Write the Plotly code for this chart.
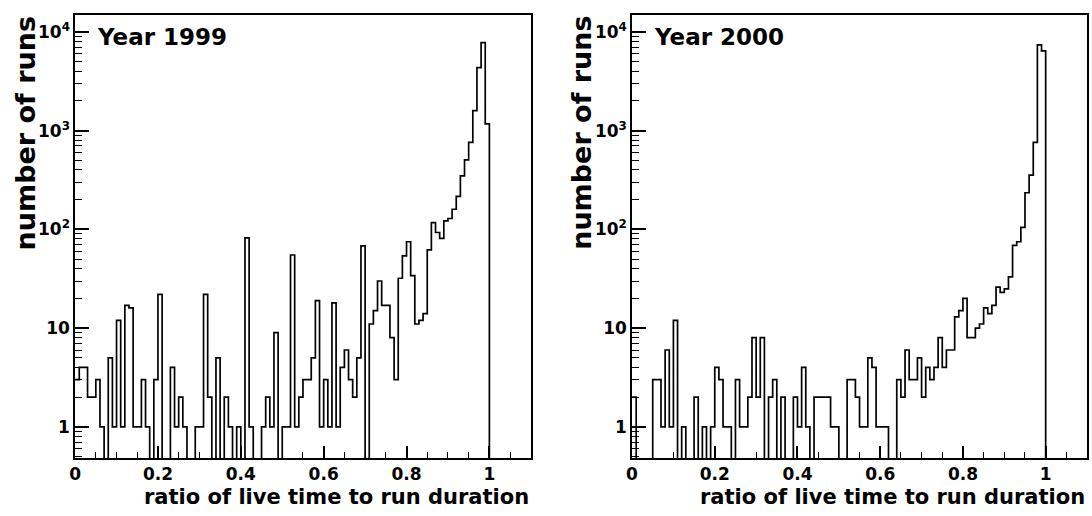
import plotly.graph_objects as go

# ---------------- data ----------------
bin_width = 0.01
x_low = 0.0
n_bins = 110  # 0.00 .. 1.10

counts_1999 = [
    3, 4, 4, 2, 2, 3, 1, 0, 5, 1,          # 0.00-0.09
    12, 1, 17, 16, 1, 1, 3, 1, 0, 3,       # 0.10-0.19
    22, 0, 0, 4, 1, 2, 1, 0, 0, 1,         # 0.20-0.29
    1, 22, 2, 0, 5, 0, 2, 1, 0, 1,         # 0.30-0.39
    0, 82, 1, 0, 0, 1, 2, 1, 9, 0,         # 0.40-0.49
    1, 1, 55, 1, 2, 3, 3, 5, 19, 1,        # 0.50-0.59
    3, 1, 18, 1, 4, 6, 3, 2, 5, 68,        # 0.60-0.69
    0, 11, 15, 30, 17, 17, 8, 3, 32, 54,   # 0.70-0.79
    75, 34, 11, 12, 14, 62, 117, 93, 81, 122,      # 0.80-0.89
    129, 160, 216, 348, 505, 760, 1600, 4350, 7800, 1170,  # 0.90-0.99
    0, 0, 0, 0, 0, 0, 0, 0, 0, 0,          # 1.00-1.09
]

counts_2000 = [
    2, 0, 0, 0, 0, 3, 3, 1, 6, 1,          # 0.00-0.09
    12, 0, 1, 0, 0, 2, 0, 1, 0, 1,         # 0.10-0.19
    4, 3, 1, 1, 0, 3, 1, 1, 2, 8,          # 0.20-0.29
    2, 8, 0, 2, 3, 0, 2, 0, 0, 2,          # 0.30-0.39
    1, 4, 1, 0, 2, 2, 2, 2, 1, 1,          # 0.40-0.49
    0, 0, 3, 3, 2, 1, 1, 5, 4, 1,          # 0.50-0.59
    1, 1, 0, 0, 3, 2, 6, 3, 3, 5,          # 0.60-0.69
    2, 4, 3, 4, 8, 4, 6, 6, 13, 15,        # 0.70-0.79
    20, 8, 8, 10, 11, 16, 14, 17, 26, 23,  # 0.80-0.89
    25, 33, 69, 75, 105, 235, 355, 760, 7400, 6450,  # 0.90-0.99
    0, 0, 0, 0, 0, 0, 0, 0, 0, 0,          # 1.00-1.09
]

panel_titles = ["Year 1999", "Year 2000"]
x_title = "ratio of live time to run duration"
y_title = "number of runs"
x_tick_vals = [0, 0.2, 0.4, 0.6, 0.8, 1.0]
x_tick_text = ["0", "0.2", "0.4", "0.6", "0.8", "1"]
y_tick_vals = [1, 10, 100, 1000, 10000]
y_tick_text = ["1", "10", "10<sup>2</sup>", "10<sup>3</sup>", "10<sup>4</sup>"]

# ---------------- helpers ----------------
edges = [round(x_low + i * bin_width, 4) for i in range(n_bins + 1)]
FLOOR = 1e-2  # empty bins drawn below the visible log range


def step_xy(counts):
    xs = edges[:]  # left edges + final right edge
    ys = [c if c > 0 else FLOOR for c in counts]
    ys = ys + [ys[-1]]
    return xs, ys


FONT = "DejaVu Sans"
W, H = 1092, 516
left_dom = [69.5 / W, 527.7 / W]
right_dom = [629.5 / W, 1087.0 / W]
y_dom = [58.0 / H, 501.0 / H]
y_range = [-0.316, 4.172]

fig = go.Figure()
for i, counts in enumerate([counts_1999, counts_2000]):
    xs, ys = step_xy(counts)
    fig.add_trace(go.Scatter(
        x=xs, y=ys, mode="lines", line=dict(shape="hv", color="black", width=1.7),
        xaxis="x" if i == 0 else "x2", yaxis="y" if i == 0 else "y2",
        showlegend=False, hoverinfo="skip",
    ))

x_minor = [round(k * 0.05, 2) for k in range(0, 23)]
y_minor = [k * 10 ** d for d in range(-1, 5) for k in range(2, 10)]


def xaxis_cfg(domain, anchor):
    return dict(
        domain=domain, anchor=anchor, range=[0, 1.1],
        tickmode="array", tickvals=x_tick_vals, ticktext=x_tick_text,
        ticks="inside", ticklen=12, tickwidth=1.5, tickcolor="black",
        minor=dict(ticks="inside", ticklen=6, tickwidth=1.3, tickcolor="black",
                   tickmode="array", tickvals=x_minor),
        showline=True, mirror=True, linecolor="black", linewidth=1.6,
        showgrid=False, zeroline=False,
        tickfont=dict(family=FONT, size=17, color="black", weight="bold"),
    )


def yaxis_cfg(anchor):
    return dict(
        domain=y_dom, anchor=anchor, type="log", range=y_range,
        tickmode="array", tickvals=y_tick_vals, ticktext=y_tick_text,
        ticks="inside", ticklen=14, tickwidth=1.5, tickcolor="black",
        minor=dict(ticks="inside", ticklen=7, tickwidth=1.3, tickcolor="black",
                   tickmode="array", tickvals=y_minor),
        showline=True, mirror=True, linecolor="black", linewidth=1.6,
        showgrid=False, zeroline=False,
        tickfont=dict(family=FONT, size=17, color="black", weight="bold"),
    )


fig.update_layout(
    width=W, height=H,
    margin=dict(l=0, r=0, t=0, b=0),
    paper_bgcolor="white", plot_bgcolor="white",
    xaxis=xaxis_cfg(left_dom, "y"),
    yaxis=yaxis_cfg("x"),
    xaxis2=xaxis_cfg(right_dom, "y2"),
    yaxis2=yaxis_cfg("x2"),
)

annots = []
for dom, title, ytx in [(left_dom, panel_titles[0], 19.5), (right_dom, panel_titles[1], 578.0)]:
    # panel label
    annots.append(dict(
        text=title, xref="paper", yref="paper",
        x=dom[0] + 20.0 / W, y=(H - 37) / H, xanchor="left", yanchor="middle",
        showarrow=False, font=dict(family=FONT, size=23, color="black", weight="bold"),
    ))
    # x title, right aligned to the axis end
    annots.append(dict(
        text=x_title, xref="paper", yref="paper",
        x=dom[1], y=(H - 497) / H, xanchor="right", yanchor="middle",
        showarrow=False, font=dict(family=FONT, size=21, color="black", weight="bold"),
    ))
    # y title, aligned to the top of the axis
    annots.append(dict(
        text=y_title, xref="paper", yref="paper", textangle=-90,
        x=ytx / W, y=(H - 14) / H, xanchor="center", yanchor="top",
        showarrow=False, font=dict(family=FONT, size=27, color="black", weight="bold"),
    ))
fig.update_layout(annotations=annots)

fig.write_html("out.html")
